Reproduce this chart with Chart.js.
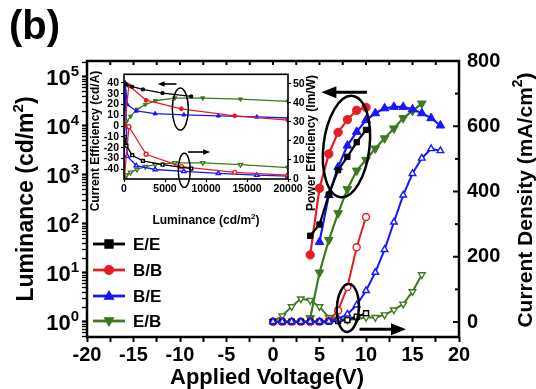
<!DOCTYPE html>
<html>
<head>
<meta charset="utf-8">
<script src="https://cdn.jsdelivr.net/npm/chart.js@4.4.1/dist/chart.umd.min.js"></script>
<style>
  html, body { margin: 0; padding: 0; background: #fff; }
  #wrap { position: relative; width: 536px; height: 389px; }
  #main { position: absolute; left: 0; top: 0; }
  #inset { position: absolute; left: 88px; top: 66px; }
</style>
</head>
<body>
<div id="wrap">
  <canvas id="main" width="536" height="389"></canvas>
  <canvas id="inset" width="232" height="164"></canvas>
</div>
<script>
const FONT = '"Liberation Sans", Arial, Helvetica, sans-serif';
const BLACK = '#000000', RED = '#e41e22', BLUE = '#1616ff', GREEN = '#3b7a1e';

// ---- main chart: luminance (left, log) vs voltage
const voltLumEE = [4, 5, 6, 7, 8, 9, 10];
const lumEE = [57.5, 97.7, 398, 1259, 2344, 4677, 8318];
const voltLumBB = [4, 5, 6, 7, 8, 9, 10];
const lumBB = [23.4, 537, 2692, 7413, 13490, 20890, 23990];
const voltLumBE = [5, 6, 7, 8, 9, 10, 11, 12, 13, 14, 15, 16, 17, 18];
const lumBE = [42.7, 389, 1445, 3981, 7586, 13183, 18197, 22909, 24547, 24547, 21878, 18197, 14454, 10233];
const voltLumEB = [4, 5, 6, 7, 8, 9, 10, 11, 12, 13, 14, 15, 16];
const lumEB = [1.2, 10.2, 47, 166, 513, 1230, 2040, 3470, 5620, 8910, 14500, 20400, 28800];

// ---- main chart: current density (right) vs voltage
const voltJEE = [0, 1, 2, 3, 4, 5, 6, 7, 8, 9, 10];
const jEE = [1, 1, 1, 1, 1, 1, 1, 3, 6, 16, 27];
const voltJBB = [0, 1, 2, 3, 4, 5, 6, 7, 8, 9, 10];
const jBB = [1, 1, 1, 1, 1, 1, 4, 35, 107, 229, 322];
const voltJBE = [0, 1, 2, 3, 4, 5, 6, 7, 8, 9, 10, 11, 12, 13, 14, 15, 16, 17, 18];
const jBE = [1, 1, 1, 1, 1, 1, 2, 9, 24, 52, 96, 152, 222, 306, 389, 455, 502, 531, 525];
const voltJEB = [0, 1, 2, 3, 4, 5, 6, 7, 8, 9, 10, 11, 12, 13, 14, 15, 16];
const jEB = [1, 19, 47, 71, 66, 47, 14, 9, 6, 9, 14, 14, 22, 37, 55, 93, 145];

const legendLabels = ['E/E', 'B/B', 'B/E', 'E/B'];
const xTicks = [-20, -15, -10, -5, 0, 5, 10, 15, 20];
const jTicks = [0, 200, 400, 600, 800];

// ---- inset: efficiencies vs luminance
const insLumEE = [100, 300, 1000, 2300, 4700, 8200];
const ceEE = [39, 38.5, 36.5, 34, 30.5, 27.5];
const peEE = [22, 17.5, 12.5, 9.5, 7.5, 5.5];
const insLumBB = [30, 600, 2700, 7000, 13500, 20000];
const ceBB = [0, 37.5, 24, 16, 9.5, 5.5];
const peBB = [0, 27.5, 13, 6.5, 3.5, 2];
const insLumBE = [20, 150, 400, 1500, 3800, 7300, 11500, 16200, 20000];
const ceBE = [0, 40, 20, 14, 11.5, 10.5, 9.5, 8.5, 7.5];
const peBE = [0, 50, 12, 7, 5, 4, 3, 2, 1.5];
const insLumEB = [30, 300, 800, 1600, 2600, 3800, 6200, 9600, 14200, 20000];
const ceEB = [0, 4, 9, 15.5, 20, 23.5, 26, 26, 25, 23];
const peEB = [0, 2, 3.5, 5, 6.5, 7.5, 8.5, 8.5, 7.5, 6];
const insLumTicks = [0, 5000, 10000, 15000, 20000];
const ceTicks = [-40, -30, -20, -10, 0, 10, 20, 30, 40];
const peTicks = [0, 10, 20, 30, 40, 50];

const pts = (xs, ys) => xs.map((x, i) => ({ x: x, y: ys[i] }));

function series(label, xs, ys, color, style, axis, open, r, lw) {
  return {
    label: label, data: pts(xs, ys), yAxisID: axis,
    borderColor: color, borderWidth: lw,
    pointStyle: style === 'tri-down' ? 'triangle' : style,
    rotation: style === 'tri-down' ? 180 : 0,
    pointRadius: r, pointBorderColor: color, pointBorderWidth: open ? 1.4 : 1,
    pointBackgroundColor: open ? '#ffffff' : color,
    tension: 0, fill: false
  };
}

function marker(ctx, style, x, y, r, color, open) {
  ctx.save();
  ctx.beginPath();
  if (style === 'rect') ctx.rect(x - r * 0.9, y - r * 0.9, r * 1.8, r * 1.8);
  else if (style === 'circle') ctx.arc(x, y, r, 0, Math.PI * 2);
  else {
    const s = style === 'tri-down' ? -1 : 1;
    ctx.moveTo(x, y - s * r * 1.1);
    ctx.lineTo(x + r, y + s * r * 0.7);
    ctx.lineTo(x - r, y + s * r * 0.7);
    ctx.closePath();
  }
  ctx.fillStyle = open ? '#fff' : color;
  ctx.fill();
  ctx.strokeStyle = color;
  ctx.lineWidth = 1.2;
  ctx.stroke();
  ctx.restore();
}

function richText(ctx, parts, x, y, align) {
  let w = 0;
  parts.forEach(p => { ctx.font = 'bold ' + p.size + 'px ' + FONT; p.w = ctx.measureText(p.t).width; w += p.w; });
  let cx = align === 'center' ? x - w / 2 : (align === 'right' ? x - w : x);
  ctx.textAlign = 'left';
  ctx.textBaseline = 'alphabetic';
  ctx.fillStyle = '#000';
  parts.forEach(p => { ctx.font = 'bold ' + p.size + 'px ' + FONT; ctx.fillText(p.t, cx, y + (p.dy || 0)); cx += p.w; });
}

function vertText(ctx, parts, x, y) {
  ctx.save();
  ctx.translate(x, y);
  ctx.rotate(-Math.PI / 2);
  richText(ctx, parts, 0, 0, 'center');
  ctx.restore();
}

function arrow(ctx, x1, y1, x2, y2, lw, hl, hw) {
  const a = Math.atan2(y2 - y1, x2 - x1);
  ctx.save();
  ctx.strokeStyle = '#000'; ctx.fillStyle = '#000'; ctx.lineWidth = lw;
  ctx.beginPath();
  ctx.moveTo(x1, y1);
  ctx.lineTo(x2 - Math.cos(a) * hl * 0.8, y2 - Math.sin(a) * hl * 0.8);
  ctx.stroke();
  ctx.beginPath();
  ctx.moveTo(x2, y2);
  ctx.lineTo(x2 - Math.cos(a) * hl - Math.sin(a) * hw, y2 - Math.sin(a) * hl + Math.cos(a) * hw);
  ctx.lineTo(x2 - Math.cos(a) * hl + Math.sin(a) * hw, y2 - Math.sin(a) * hl - Math.cos(a) * hw);
  ctx.closePath();
  ctx.fill();
  ctx.restore();
}

function ellipse(ctx, cx, cy, rx, ry, rot, lw) {
  ctx.save();
  ctx.strokeStyle = '#000'; ctx.lineWidth = lw;
  ctx.beginPath();
  ctx.ellipse(cx, cy, rx, ry, rot, 0, Math.PI * 2);
  ctx.stroke();
  ctx.restore();
}

const mainDecor = {
  id: 'mainDecor',
  afterDraw(chart) {
    const ctx = chart.ctx, a = chart.chartArea;
    const sx = chart.scales.x, sl = chart.scales.y, sr = chart.scales.y2;
    ctx.save();
    // frame
    ctx.strokeStyle = '#000'; ctx.lineWidth = 2.5;
    ctx.strokeRect(a.left, a.top, a.right - a.left, a.bottom - a.top);
    // right axis inward ticks
    ctx.lineWidth = 2;
    sr.ticks.forEach(t => {
      const y = sr.getPixelForValue(t.value);
      ctx.beginPath(); ctx.moveTo(a.right, y); ctx.lineTo(a.right - (t.value % 200 === 0 ? 6 : 4), y); ctx.stroke();
    });
    // top axis inward ticks
    sx.ticks.forEach(t => {
      const x = sx.getPixelForValue(t.value);
      ctx.beginPath(); ctx.moveTo(x, a.top); ctx.lineTo(x, a.top + 4); ctx.stroke();
    });
    // left log labels 10^n
    sl.ticks.forEach(t => {
      if (!t.major) return;
      const y = sl.getPixelForValue(t.value);
      const e = String(Math.round(Math.log10(t.value)));
      richText(ctx, [{ t: '10', size: 22 }, { t: e, size: 15, dy: -9 }], 79, y + 8, 'right');
    });
    // axis titles
    vertText(ctx, [{ t: 'Luminance (cd/m', size: 23 }, { t: '2', size: 15, dy: -10 }, { t: ')', size: 23 }], 33, 199);
    richText(ctx, [{ t: 'Applied Voltage(V)', size: 22 }], 267, 384, 'center');
    vertText(ctx, [{ t: 'Current Density (mA/cm', size: 21 }, { t: '2', size: 14, dy: -10 }, { t: ')', size: 21 }], 532, 200);
    richText(ctx, [{ t: '(b)', size: 40 }], 9, 39, 'left');
    // legend
    const styles = ['rect', 'circle', 'triangle', 'tri-down'];
    const colors = [BLACK, RED, BLUE, GREEN];
    const rowY = [244, 270, 296, 321];
    legendLabels.forEach((lab, i) => {
      ctx.strokeStyle = colors[i]; ctx.lineWidth = 2.8;
      ctx.beginPath(); ctx.moveTo(93, rowY[i]); ctx.lineTo(125, rowY[i]); ctx.stroke();
      marker(ctx, styles[i], 109, rowY[i], 4.5, colors[i], false);
      richText(ctx, [{ t: lab, size: 17 }], 133, rowY[i] + 6, 'left');
    });
    // annotations
    const ex = sx.getPixelForValue(7.9), ey = sl.getPixelForValue(Math.pow(10, 3.58));
    ellipse(ctx, ex, ey, 23, 51, 0.12, 2.5);
    arrow(ctx, sx.getPixelForValue(10.1), sl.getPixelForValue(Math.pow(10, 4.69)),
      sx.getPixelForValue(5.2), sl.getPixelForValue(Math.pow(10, 4.69)), 3, 15, 6);
    ellipse(ctx, sx.getPixelForValue(8.05), sr.getPixelForValue(43), 11, 24, 0.05, 2.5);
    arrow(ctx, sx.getPixelForValue(9.3), sr.getPixelForValue(-22),
      sx.getPixelForValue(14.3), sr.getPixelForValue(-22), 3, 15, 6);
    ctx.restore();
  }
};

const mainDatasets = [
  series('B/E J', voltJBE, jBE, BLUE, 'triangle', 'y2', true, 3.8, 2),
  series('E/E J', voltJEE, jEE, BLACK, 'rect', 'y2', true, 3.5, 2),
  series('B/B J', voltJBB, jBB, RED, 'circle', 'y2', true, 3.5, 2),
  series('E/B J', voltJEB, jEB, GREEN, 'tri-down', 'y2', true, 3.8, 2),
  series('E/E', voltLumEE, lumEE, BLACK, 'rect', 'y', false, 3.8, 2.2),
  series('B/B', voltLumBB, lumBB, RED, 'circle', 'y', false, 4.2, 2.2),
  series('B/E', voltLumBE, lumBE, BLUE, 'triangle', 'y', false, 5, 2.2),
  series('E/B', voltLumEB, lumEB, GREEN, 'tri-down', 'y', false, 5, 2.2)
];

new Chart(document.getElementById('main').getContext('2d'), {
  type: 'line',
  data: { datasets: mainDatasets },
  options: {
    responsive: false, animation: false, events: [],
    layout: { padding: { top: 61, left: 0, right: 0, bottom: 0 } },
    plugins: { legend: { display: false }, tooltip: { enabled: false } },
    scales: {
      x: {
        type: 'linear', position: 'bottom', min: -20, max: 20,
        afterFit: s => { s.height = 52; },
        afterBuildTicks: s => {
          const t = [];
          for (let v = -20; v <= 20; v += 2.5) t.push({ value: v });
          s.ticks = t;
        },
        ticks: {
          autoSkip: false, maxRotation: 0, padding: 1, color: '#000',
          font: { family: FONT, size: 20, weight: 'bold' },
          callback: v => xTicks.includes(v) ? String(v) : ''
        },
        grid: { drawOnChartArea: false, tickLength: 5, tickColor: '#000', tickWidth: 2 },
        border: { display: false }
      },
      y: {
        type: 'logarithmic', position: 'left', min: 0.494, max: 212000,
        afterFit: s => { s.width = 87; },
        afterBuildTicks: s => {
          const t = [];
          for (let e = -1; e <= 5; e++) {
            for (let k = 1; k <= 9; k++) {
              const v = k * Math.pow(10, e);
              if (v >= s.min && v <= s.max) t.push({ value: v, major: k === 1 });
            }
          }
          s.ticks = t;
        },
        ticks: { display: false },
        grid: {
          drawOnChartArea: false, tickLength: 5, tickColor: '#000',
          tickWidth: c => (c.tick && c.tick.major) ? 2.2 : 1.3
        },
        border: { display: false }
      },
      y2: {
        type: 'linear', position: 'right', min: -46, max: 800,
        afterFit: s => { s.width = 77; },
        afterBuildTicks: s => {
          const t = [];
          for (let v = 0; v <= 800; v += 100) t.push({ value: v });
          s.ticks = t;
        },
        ticks: {
          autoSkip: false, padding: 8, color: '#000',
          font: { family: FONT, size: 20, weight: 'bold' },
          callback: v => jTicks.includes(v) ? String(v) : ''
        },
        grid: { drawOnChartArea: false, drawTicks: false },
        border: { display: false }
      }
    }
  },
  plugins: [mainDecor]
});

// ---- inset chart
const insetDecor = {
  id: 'insetDecor',
  afterDraw(chart) {
    const ctx = chart.ctx, a = chart.chartArea;
    const sx = chart.scales.x, sl = chart.scales.yl;
    ctx.save();
    ctx.strokeStyle = '#000'; ctx.lineWidth = 1.6;
    ctx.strokeRect(a.left, a.top, a.right - a.left, a.bottom - a.top);
    vertText(ctx, [{ t: 'Current Efficiency (cd/A)', size: 12 }], 11, 75);
    vertText(ctx, [{ t: 'Power Efficiency (lm/W)', size: 12 }], 227, 77);
    richText(ctx, [{ t: 'Luminance (cd/m', size: 12 }, { t: '2', size: 8, dy: -5 }, { t: ')', size: 12 }], 118, 158, 'center');
    arrow(ctx, sx.getPixelForValue(6400), sl.getPixelForValue(39), sx.getPixelForValue(4100), sl.getPixelForValue(39), 1.6, 7, 2.8);
    ellipse(ctx, sx.getPixelForValue(6870), sl.getPixelForValue(15.8), 8, 21, 0, 1.5);
    ellipse(ctx, sx.getPixelForValue(7350), sl.getPixelForValue(-41), 6, 17, 0, 1.5);
    arrow(ctx, sx.getPixelForValue(7800), sl.getPixelForValue(-24), sx.getPixelForValue(10500), sl.getPixelForValue(-24), 1.6, 7, 2.8);
    ctx.restore();
  }
};

const insetDatasets = [
  series('E/E CE', insLumEE, ceEE, BLACK, 'rect', 'yl', false, 2, 1.3),
  series('B/B CE', insLumBB, ceBB, RED, 'circle', 'yl', false, 2, 1.3),
  series('B/E CE', insLumBE, ceBE, BLUE, 'triangle', 'yl', false, 2.4, 1.3),
  series('E/B CE', insLumEB, ceEB, GREEN, 'tri-down', 'yl', false, 2.4, 1.3),
  series('E/E PE', insLumEE, peEE, BLACK, 'rect', 'yr', true, 2, 1.3),
  series('B/B PE', insLumBB, peBB, RED, 'circle', 'yr', true, 2, 1.3),
  series('B/E PE', insLumBE, peBE, BLUE, 'triangle', 'yr', true, 2.4, 1.3),
  series('E/B PE', insLumEB, peEB, GREEN, 'tri-down', 'yr', true, 2.4, 1.3)
];

const smallTick = { family: FONT, size: 10.5, weight: 'bold' };
new Chart(document.getElementById('inset').getContext('2d'), {
  type: 'line',
  data: { datasets: insetDatasets },
  options: {
    responsive: false, animation: false, events: [],
    layout: { padding: { top: 7, left: 0, right: 0, bottom: 0 } },
    plugins: { legend: { display: false }, tooltip: { enabled: false } },
    scales: {
      x: {
        type: 'linear', min: 0, max: 20000,
        afterFit: s => { s.height = 51; },
        afterBuildTicks: s => { s.ticks = insLumTicks.map(v => ({ value: v })); },
        ticks: { autoSkip: false, maxRotation: 0, padding: 1, color: '#000', font: smallTick, callback: v => String(v) },
        grid: { drawOnChartArea: false, tickLength: 3, tickColor: '#000', tickWidth: 1.2 },
        border: { display: false }
      },
      yl: {
        type: 'linear', position: 'left', min: -49, max: 48,
        afterFit: s => { s.width = 36; },
        afterBuildTicks: s => { s.ticks = ceTicks.map(v => ({ value: v })); },
        ticks: { autoSkip: false, padding: 2, color: '#000', font: smallTick, callback: v => String(v) },
        grid: { drawOnChartArea: false, tickLength: 3, tickColor: '#000', tickWidth: 1.2 },
        border: { display: false }
      },
      yr: {
        type: 'linear', position: 'right', min: 0, max: 55,
        afterFit: s => { s.width = 32; },
        afterBuildTicks: s => { s.ticks = peTicks.map(v => ({ value: v })); },
        ticks: { autoSkip: false, padding: 2, color: '#000', font: smallTick, callback: v => String(v) },
        grid: { drawOnChartArea: false, tickLength: 3, tickColor: '#000', tickWidth: 1.2 },
        border: { display: false }
      }
    }
  },
  plugins: [insetDecor]
});
</script>
</body>
</html>
